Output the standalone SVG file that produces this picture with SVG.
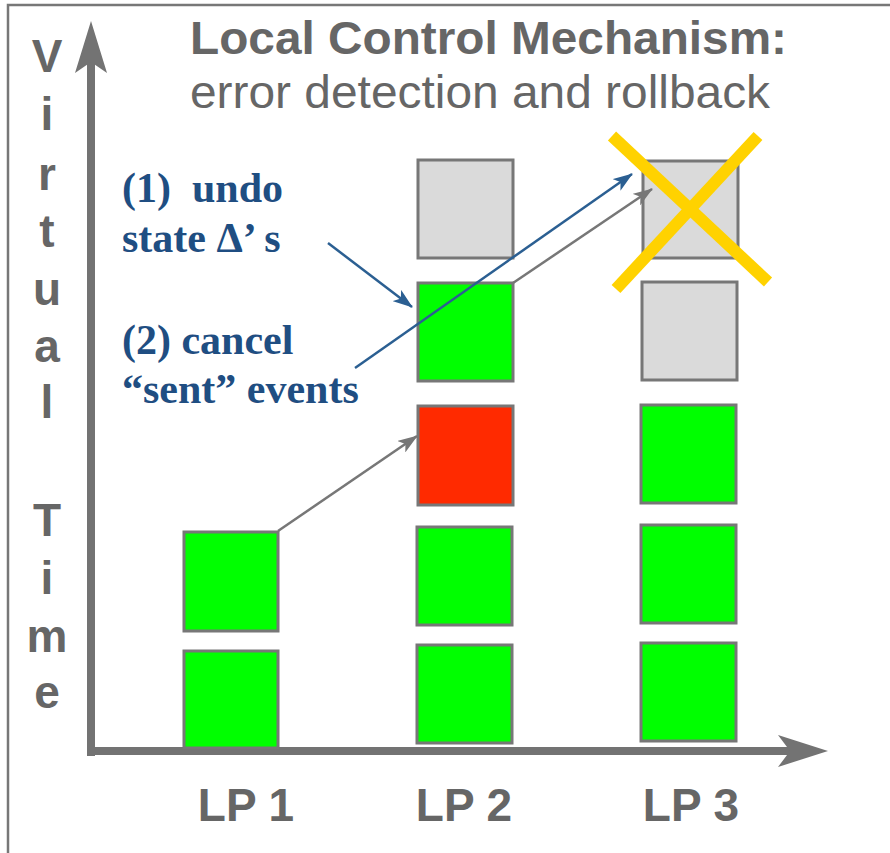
<svg xmlns="http://www.w3.org/2000/svg" width="890" height="853" viewBox="0 0 890 853">
<style>
.box{stroke:#777;stroke-width:3}
.g{fill:#00FF00}
.r{fill:#FF2A00}
.n{fill:#DADADA}
.ax{stroke:#737373;stroke-width:8;fill:none}
.lbl{font-family:"Liberation Sans",Arial,sans-serif;font-weight:bold;fill:#666;font-size:46px;text-anchor:middle}
.blue{font-family:"Liberation Serif","Times New Roman",serif;font-weight:bold;fill:#1F4E82;font-size:42px}
.ca{stroke:#777;stroke-width:2.5;fill:none;marker-end:url(#ag)}
.cb{stroke:#2B5F92;stroke-width:2.5;fill:none;marker-end:url(#ab)}
</style>
<defs>
<marker id="ag" markerUnits="userSpaceOnUse" markerWidth="20" markerHeight="14" viewBox="0 0 20 14" refX="19" refY="7" orient="auto"><path d="M0,0 L20,7 L0,14 L5,7 z" fill="#777"/></marker>
<marker id="ab" markerUnits="userSpaceOnUse" markerWidth="20" markerHeight="14" viewBox="0 0 20 14" refX="19" refY="7" orient="auto"><path d="M0,0 L20,7 L0,14 L5,7 z" fill="#2B5F92"/></marker>
</defs>
<rect width="890" height="853" fill="#fff"/>
<g id="frame"><path d="M8,853 V5 H890" fill="none" stroke="#777" stroke-width="2.5"/></g>
<g id="axes">
<path class="ax" d="M91,756 V60"/>
<path d="M91,21 L107,73 L91,62 L75,73 z" fill="#737373"/>
<path class="ax" d="M87,751 H790"/>
<path d="M828,751 L778,735 L790,751 L778,767 z" fill="#737373"/>
</g>
<g id="title" font-family="Liberation Sans,Arial,sans-serif" fill="#666">
<text x="190" y="54" font-size="47" font-weight="bold" textLength="597" lengthAdjust="spacingAndGlyphs">Local Control Mechanism:</text>
<text x="190" y="108" font-size="47" textLength="580" lengthAdjust="spacingAndGlyphs">error detection and rollback</text>
</g>
<g id="ylabel" class="lbl">
<text x="47" y="72" class="lbl">V</text>
<text x="47" y="130" class="lbl">i</text>
<text x="47" y="190" class="lbl">r</text>
<text x="47" y="247" class="lbl">t</text>
<text x="47" y="305" class="lbl">u</text>
<text x="47" y="362" class="lbl">a</text>
<text x="47" y="418" class="lbl">l</text>
<text x="47" y="536" class="lbl">T</text>
<text x="47" y="594" class="lbl">i</text>
<text x="47" y="652" class="lbl">m</text>
<text x="47" y="708" class="lbl">e</text>
</g>
<g id="lp1">
<rect class="box g" x="184" y="532" width="94" height="99"/>
<rect class="box g" x="184" y="651" width="94" height="97"/>
<text x="246" y="821" class="lbl" font-size="44">LP 1</text>
</g>
<g id="lp2">
<rect class="box n" x="418" y="160" width="95" height="98"/>
<rect class="box g" x="418" y="283" width="95" height="98"/>
<rect class="box r" x="418" y="406" width="95" height="99"/>
<rect class="box g" x="417" y="527" width="95" height="98"/>
<rect class="box g" x="417" y="645" width="95" height="98"/>
<text x="464" y="821" class="lbl" font-size="44">LP 2</text>
</g>
<g id="lp3">
<rect class="box n" x="643" y="161" width="95" height="97"/>
<rect class="box n" x="642" y="282" width="95" height="98"/>
<rect class="box g" x="641" y="405" width="95" height="98"/>
<rect class="box g" x="641" y="525" width="95" height="98"/>
<rect class="box g" x="641" y="643" width="95" height="98"/>
<text x="691" y="821" class="lbl" font-size="44">LP 3</text>
</g>
<g id="cross" stroke="#FFD200" stroke-width="12" stroke-linecap="butt">
<line x1="612" y1="136" x2="768" y2="282"/>
<line x1="758" y1="136" x2="616" y2="289"/>
</g>
<g id="notes" class="blue">
<text x="122" y="202" class="blue" xml:space="preserve">(1)  undo</text>
<text x="122" y="252" class="blue">state Δ’ s</text>
<text x="122" y="354" class="blue">(2) cancel</text>
<text x="122" y="403" class="blue">“sent” events</text>
</g>
<g id="connectors">
<line class="ca" x1="278" y1="531" x2="417" y2="436"/>
<line class="ca" x1="513" y1="283" x2="652" y2="189"/>
<line class="cb" x1="328" y1="243" x2="412" y2="307"/>
<line class="cb" x1="355" y1="368" x2="632" y2="174"/>
</g>
</svg>
